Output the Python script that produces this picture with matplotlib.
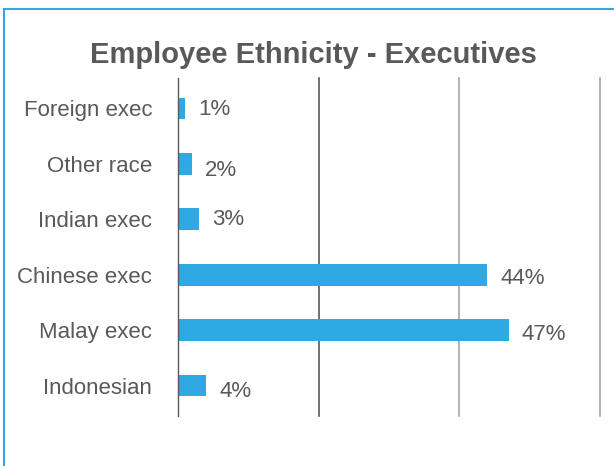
import matplotlib
matplotlib.use('Agg')
import matplotlib.pyplot as plt
from matplotlib.patches import Rectangle

# Dados do gráfico
categorias = ['Foreign exec', 'Other race', 'Indian exec', 'Chinese exec', 'Malay exec', 'Indonesian']
valores = [1, 2, 3, 44, 47, 4]

cor_barra = '#2EA9E1'
cor_texto = '#595959'

plt.rcParams['font.family'] = ['Liberation Sans', 'DejaVu Sans']

fig = plt.figure(figsize=(6.14, 4.66), dpi=100)
ax = fig.add_axes([178 / 614, 1 - 416 / 466, 422 / 614, 338 / 466])

posicoes = list(range(len(categorias)))
bars = ax.barh(posicoes, valores, height=0.39, color=cor_barra, zorder=3)
ax.set_ylim(len(categorias) - 0.45, -0.55)
ax.set_xlim(0, 60)
ax.set_xticks([0, 20, 40, 60])
ax.set_xticklabels([])
ax.tick_params(axis='x', length=0)
ax.tick_params(axis='y', length=0, pad=18.5, labelsize=16, labelcolor=cor_texto)
ax.set_yticks(posicoes)
ax.set_yticklabels(categorias)

# Grid vertical
for x, c in zip([20, 40, 60], ['#595959', '#A6A6A6', '#A6A6A6']):
    ax.axvline(x, color=c, linewidth=1.2, zorder=1, clip_on=False)
ax.axvline(0, color='#595959', linewidth=1, zorder=4, clip_on=False)
for s in ax.spines.values():
    s.set_visible(False)

# Rótulos de valor (pequenos deslocamentos verticais como no original)
desloc_y = [-1, -5, 0, -3, -3, -4]
for bar, valor, dy in zip(bars, valores, desloc_y):
    ax.annotate(f'{valor}%', (bar.get_width(), bar.get_y() + bar.get_height() / 2),
                xytext=(9.5, dy), textcoords='offset points', ha='left', va='center',
                fontsize=16, color=cor_texto)

fig.text(313 / 614, 1 - 55 / 466, 'Employee Ethnicity - Executives', ha='center', va='center',
         fontsize=21, fontweight='bold', color=cor_texto)

# Borda azul
fig.patches.append(Rectangle((4 / 614, -0.1), 1.2, 1 - 8.5 / 466 + 0.1, transform=fig.transFigure,
                             fill=False, edgecolor=cor_barra, linewidth=1.5))

fig.savefig('out.png', dpi=100, facecolor='white')
